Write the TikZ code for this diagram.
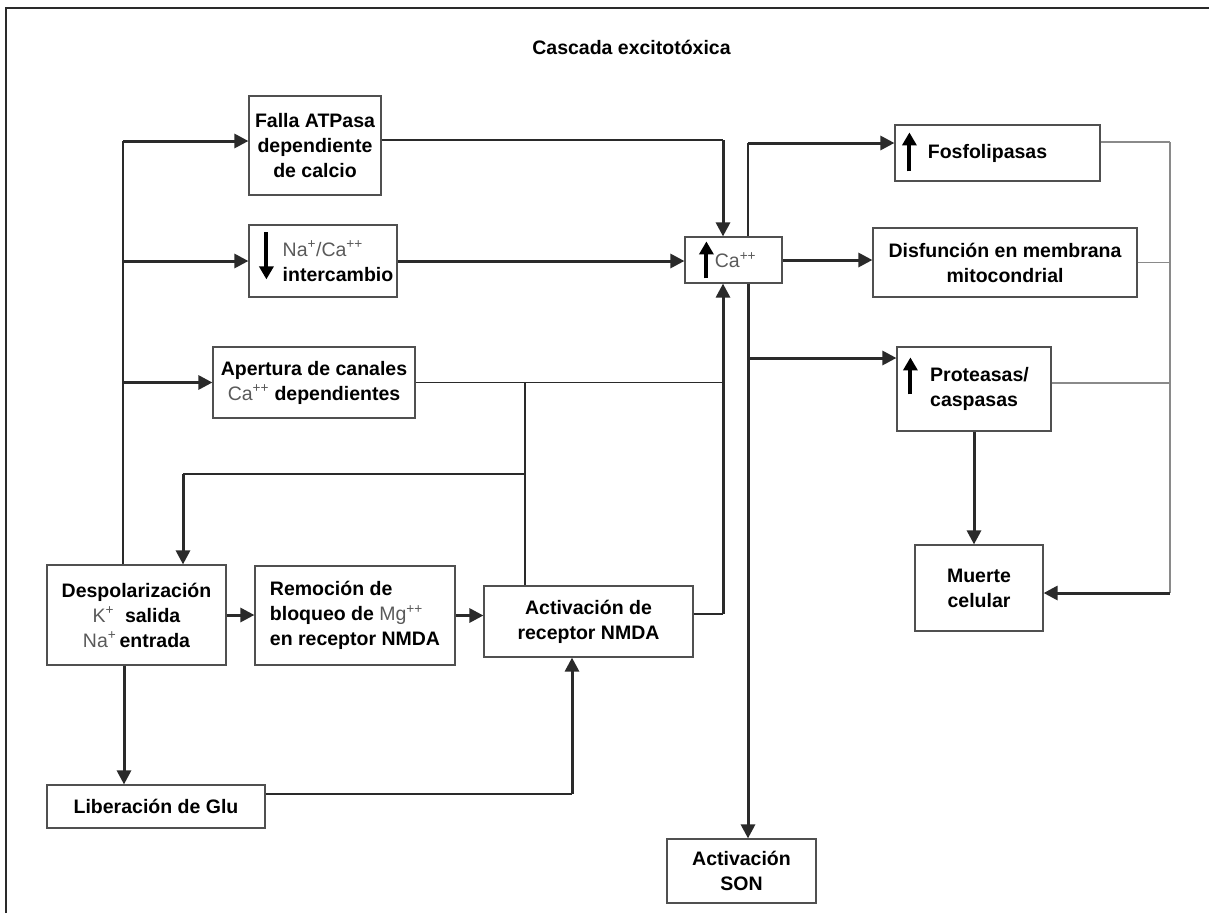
\documentclass[tikz,border=0pt]{standalone}
\usepackage{fontspec}
\setmainfont{Liberation Sans}
\usetikzlibrary{arrows.meta}
\usepackage{xcolor}
\definecolor{boxline}{HTML}{505050}
\definecolor{wire}{HTML}{2A2A2A}
\definecolor{wiregray}{HTML}{8A8A8A}
\definecolor{iongray}{HTML}{5A5A5A}
\newcommand{\ion}[1]{\textcolor{iongray}{\mdseries #1}}

\begin{document}
\begin{tikzpicture}[x=1pt,y=-1pt,
  font=\fontsize{19.5}{25}\selectfont\bfseries,
  box/.style={draw=boxline, line width=1.2pt, inner sep=0pt, align=center},
  thinln/.style={wire, line width=1.3pt},
  thickarr/.style={wire, line width=3pt, -{Triangle[length=14pt,width=14pt]}},
  updn/.style={black, line width=4pt, -{Triangle[length=13pt,width=14pt]}}]
\useasboundingbox (0,0) rectangle (1209,913);
\draw[wire, line width=1.5pt] (6,913) -- (6,8) -- (1209,8);

\node (title) at (631.5,47) {Cascada excitot\'oxica};

\node[box, minimum width=132, minimum height=99] (falla) at (315,145.5) {Falla ATPasa\\dependiente\\de calcio};
\node[box, align=left, minimum width=148, minimum height=72] (nacA) at (323,261) {\hspace*{30pt}\ion{Na\textsuperscript{+}/Ca\textsuperscript{++}}\\\hspace*{30pt}intercambio};
\node[box, minimum width=202, minimum height=71] (apert) at (314,382.5) {Apertura de canales\\\ion{Ca\textsuperscript{++}} dependientes};
\node[box, minimum width=179, minimum height=100] (despol) at (136.5,615) {Despolarizaci\'on\\\ion{K\textsuperscript{+}}\ \ salida\\\ion{Na\textsuperscript{+}}\,entrada};
\node[box, align=left, minimum width=200, minimum height=99] (remoc) at (355,615.5) {Remoci\'on de\\bloqueo de \ion{Mg\textsuperscript{++}}\\en receptor NMDA};
\node[box, minimum width=209, minimum height=71] (nmda) at (588.5,621.5) {Activaci\'on de\\receptor NMDA};
\node[box, minimum width=218, minimum height=43] (glu) at (156,806.5) {Liberaci\'on de Glu};
\node[box, minimum width=149, minimum height=64] (son) at (741.5,871) {Activaci\'on\\SON};
\node[box, minimum width=97, minimum height=46] (ca) at (733.5,260) {\hspace*{4pt}\ion{Ca\textsuperscript{++}}};
\node[box, minimum width=205, minimum height=56] (fosfo) at (997.5,153) {Fosfolipasas\hspace*{20pt}};
\node[box, minimum width=264, minimum height=69] (disf) at (1005,262.5) {Disfunci\'on en membrana\\mitocondrial};
\node[box, align=left, minimum width=154, minimum height=84] (prot) at (974,389) {\hspace*{11pt}Proteasas/\\\hspace*{11pt}caspasas};
\node[box, minimum width=128, minimum height=86] (muerte) at (979,588) {Muerte\\celular};

\draw[updn] ([shift={(18,8)}]nacA.north west) -- ++(0,47);
\draw[updn] ([shift={(22,42)}]ca.north west) -- ++(0,-37);
\draw[updn] ([shift={(15,47)}]fosfo.north west) -- ++(0,-39);
\draw[updn] ([shift={(14,48)}]prot.north west) -- ++(0,-37);

\coordinate (lv) at (123,141);
\coordinate (cin) at (723,140);
\coordinate (cout) at (748,0);
\coordinate (jn) at (525,0);
\coordinate (fb) at (183,474);
\coordinate (gl) at (572,794);
\coordinate (dv) at (124,0);
\coordinate (fp) at (748,143);
\coordinate (pp) at (748,358);
\coordinate (nr) at (723,614);
\coordinate (rv) at (1170,142);
\coordinate (pr) at (1170,383);
\coordinate (mu) at (1170,593);

\draw[thinln] (lv |- despol.north) -- (lv);
\draw[thickarr] (lv) -- (lv -| falla.west);
\foreach \n in {nacA,apert} {
 \draw[thickarr] (lv |- \n.west) -- (\n.west);
}
\draw[thinln] (cin -| falla.east) -- (cin);
\draw[thickarr] (cin) -- (cin |- ca.north);
\draw[thickarr] (nacA.east) -- (nacA.east -| ca.west);
\draw[thinln] (apert.east) -- (apert.east -| cin);
\draw[thinln] (apert.east -| jn) -- (jn |- nmda.north);
\draw[thinln] (jn |- fb) -- (fb);
\draw[thickarr] (fb) -- (fb |- despol.north);
\draw[thinln] (nr -| nmda.east) -- (nr);
\draw[thickarr] (nr) -- (nr |- ca.south);
\draw[thinln] (gl -| glu.east) -- (gl);
\draw[thickarr] (gl) -- (gl |- nmda.south);
\draw[thickarr] (dv |- despol.south) -- (dv |- glu.north);
\draw[thickarr] (despol.east) -- (despol.east -| remoc.west);
\draw[thickarr] (remoc.east) -- (remoc.east -| nmda.west);

\draw[thinln] (cout |- ca.north) -- (fp);
\draw[thickarr] (fp) -- (fp -| fosfo.west);
\draw[thickarr] (ca.east) -- (ca.east -| disf.west);
\draw[thickarr] (cout |- ca.south) -- (cout |- son.north);
\draw[thickarr] (pp) -- (pp -| prot.west);
\draw[thickarr] (prot.south) -- (prot.south |- muerte.north);
\draw[wiregray, line width=1.3pt] (rv -| fosfo.east) -- (rv);
\draw[wiregray, line width=1.3pt] (disf.east) -- (disf.east -| rv);
\draw[wiregray, line width=1.3pt] (pr -| prot.east) -- (pr);
\draw[wiregray, line width=1.3pt] (rv) -- (mu);
\draw[thickarr] (mu) -- (mu -| muerte.east);
\end{tikzpicture}
\end{document}
